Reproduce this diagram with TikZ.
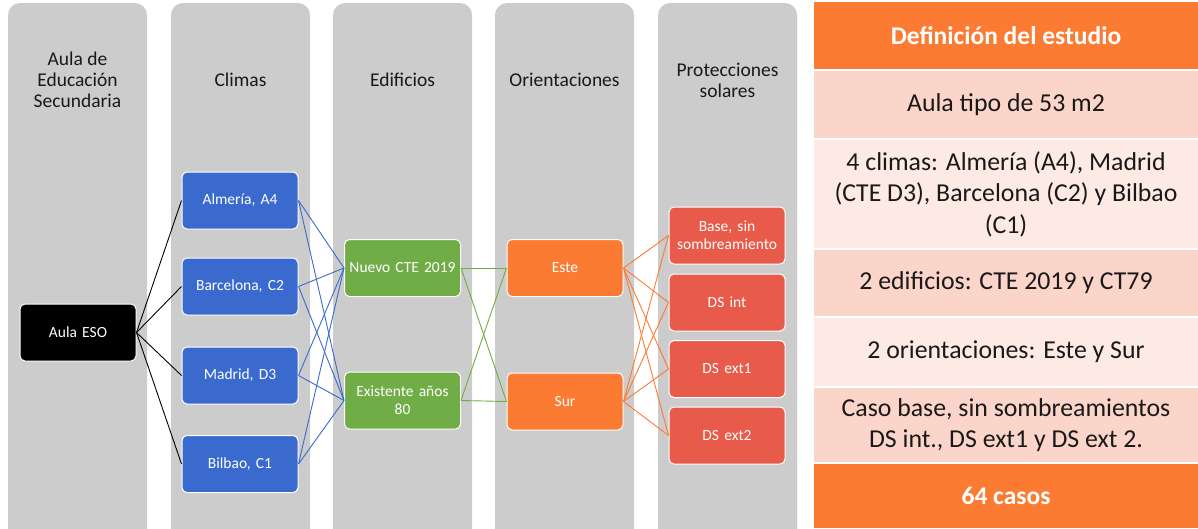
\documentclass[tikz,border=0pt]{standalone}
\usepackage{fontspec}
\setmainfont{Carlito}
\definecolor{colgrey}{RGB}{204,204,204}
\definecolor{climablue}{RGB}{58,106,206}
\definecolor{edifgreen}{RGB}{112,173,71}
\definecolor{orientorange}{RGB}{252,123,50}
\definecolor{protred}{RGB}{232,90,74}
\definecolor{rowdark}{RGB}{251,213,201}
\definecolor{rowlight}{RGB}{253,234,228}
\tikzset{
	column/.style={fill=colgrey, rounded corners=12pt},
	coltitle/.style={align=center, text=black!90, font=\fontsize{19.5}{21}\selectfont},
	box/.style={draw=white, line width=1pt, rounded corners=5pt, minimum width=116pt,
		minimum height=57pt, text width=112pt, align=center, inner sep=1pt,
		text=white, font=\fontsize{15.5}{18}\selectfont},
	tabrow/.style={minimum width=384pt, inner sep=0pt, align=center, text=black!90,
		font=\fontsize{25.8}{31.5}\selectfont},
	tabhead/.style={tabrow, fill=orientorange, text=white, font=\fontsize{25.5}{31}\selectfont\bfseries},
	link/.style={line width=0.9pt}
}

\begin{document}
\begin{tikzpicture}[x=1pt, y=-1pt]
			%%%%% FRAME %%%%%
			\useasboundingbox (0, 0) rectangle (1198, 528);
			\clip (0, 0) rectangle (1198, 528);
			
			%%%%% COLUMNS %%%%%
			\foreach \cx in {8, 171, 333, 495, 658}
				\fill[column] (\cx, 3) rectangle ++(139, 560);
			
			\node[coltitle] (t-aula) at (77.5, 80) {Aula de\\Educación\\Secundaria};
			\node[coltitle] (t-climas) at (240.5, 80) {Climas};
			\node[coltitle] (t-edif) at (402.5, 80) {Edificios};
			\node[coltitle] (t-orient) at (564.5, 80) {Orientaciones};
			\node[coltitle] (t-prot) at (727.5, 80) {Protecciones\\solares};
			
			%%%%% BOXES %%%%%
			\node[box, fill=black] (aula) at (78, 332.5) {Aula ESO};
			
			\node[box, fill=climablue] (almeria) at (240, 200.5) {Almería, A4};
			\node[box, fill=climablue] (barcelona) at (240, 286.5) {Barcelona, C2};
			\node[box, fill=climablue] (madrid) at (240, 375.5) {Madrid, D3};
			\node[box, fill=climablue] (bilbao) at (240, 464) {Bilbao, C1};
			
			\node[box, fill=edifgreen] (nuevo) at (402.5, 268) {Nuevo CTE 2019};
			\node[box, fill=edifgreen] (existente) at (402.5, 400.5) {Existente años\\80};
			
			\node[box, fill=orientorange] (este) at (565, 268) {Este};
			\node[box, fill=orientorange] (sur) at (565, 401.5) {Sur};
			
			\node[box, fill=protred] (base) at (727, 235.5) {Base, sin\\sombreamiento};
			\node[box, fill=protred] (dsint) at (727, 302.5) {DS int};
			\node[box, fill=protred] (dsexta) at (727, 369) {DS ext1};
			\node[box, fill=protred] (dsextb) at (727, 435.5) {DS ext2};
			
			%%%%% LINKS %%%%%
			\foreach \c in {almeria, barcelona, madrid, bilbao} {
				\draw[link, black] (aula.east) -- (\c.west);
				\foreach \e in {nuevo, existente}
					\draw[link, climablue] (\c.east) -- (\e.west);
			}
			\foreach \e in {nuevo, existente}
				\foreach \o in {este, sur}
					\draw[link, edifgreen] (\e.east) -- (\o.west);
			\foreach \o in {este, sur}
				\foreach \p in {base, dsint, dsexta, dsextb}
					\draw[link, orientorange] (\o.east) -- (\p.west);
			
			%%%%% TABLE %%%%%
			\node[tabhead, minimum height=67pt] (head) at (1006, 35.5) {Definición del estudio};
			\node[tabrow, fill=rowdark, minimum height=67pt] (aulatipo) at (1006, 104.5) {Aula tipo de 53 m2};
			\node[tabrow, fill=rowlight, minimum height=108pt] (climas) at (1006, 194) {4 climas: Almería (A4), Madrid\\(CTE D3), Barcelona (C2) y Bilbao\\(C1)};
			\node[tabrow, fill=rowdark, minimum height=66pt] (edificios) at (1006, 283) {2 edificios: CTE 2019 y CT79};
			\node[tabrow, fill=rowlight, minimum height=68pt] (orient) at (1006, 352) {2 orientaciones: Este y Sur};
			\node[tabrow, fill=rowdark, minimum height=74pt] (casobase) at (1006, 425) {Caso base, sin sombreamientos\\DS int., DS ext1 y DS ext 2.};
			\node[tabhead, minimum height=64pt] (casos) at (1006, 496) {64 casos};
		\end{tikzpicture}
\end{document}
